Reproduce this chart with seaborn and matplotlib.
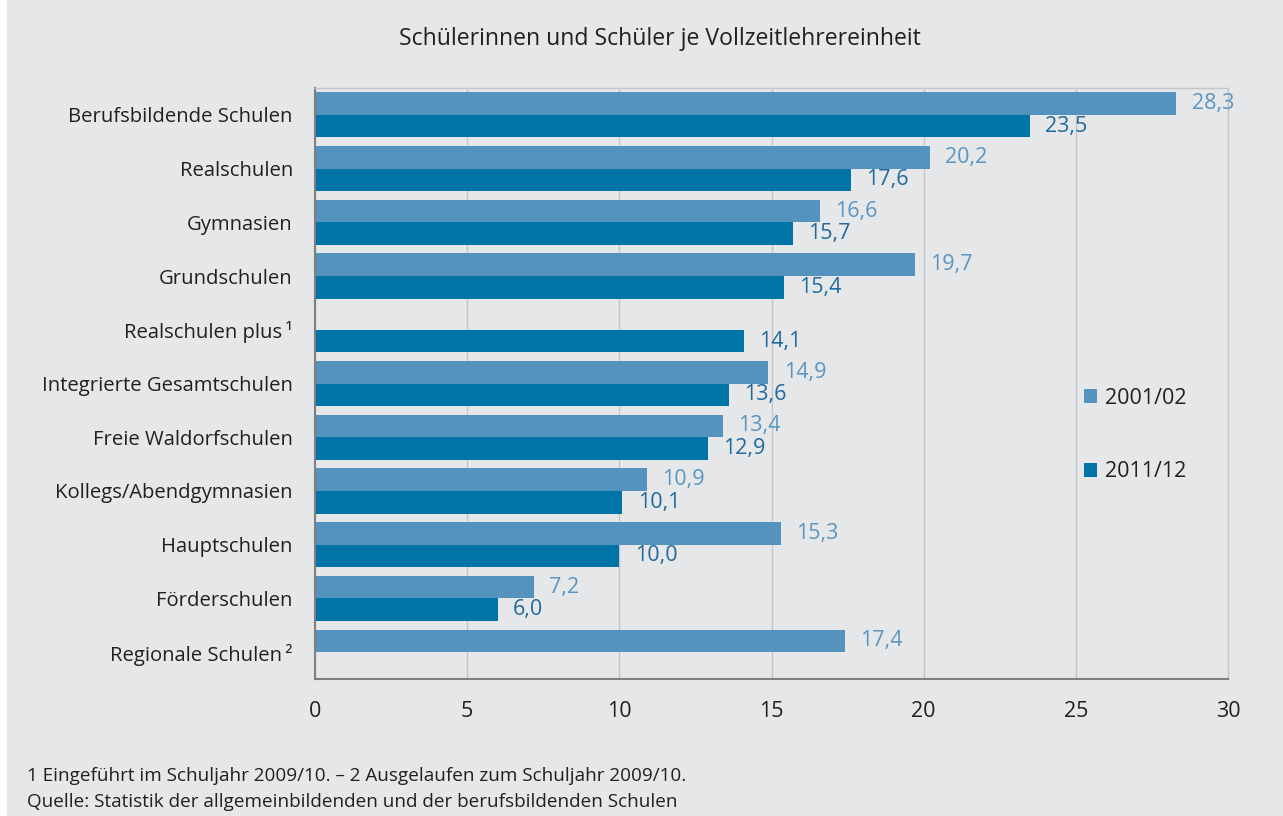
import numpy as np
import pandas as pd
import matplotlib
matplotlib.use("Agg")
import matplotlib.pyplot as plt
import seaborn as sns
from matplotlib.patches import Patch, Rectangle

categories = ["Berufsbildende Schulen", "Realschulen", "Gymnasien", "Grundschulen",
              "Realschulen plus\u2009\u00b9", "Integrierte Gesamtschulen", "Freie Waldorfschulen",
              "Kollegs/Abendgymnasien", "Hauptschulen", "Förderschulen", "Regionale Schulen\u2009\u00b2"]
v2001 = [28.3, 20.2, 16.6, 19.7, np.nan, 14.9, 13.4, 10.9, 15.3, 7.2, 17.4]
v2011 = [23.5, 17.6, 15.7, 15.4, 14.1, 13.6, 12.9, 10.1, 10.0, 6.0, np.nan]
series = ["2001/02", "2011/12"]
xticks = [0, 5, 10, 15, 20, 25, 30]

BG = "#e6e7e9"
C_LIGHT = "#5393bd"
C_DARK = "#0074a6"
T_LIGHT = "#5a96c2"
T_DARK = "#1f6a9c"
TXT = "#231f20"

sns.set_theme(style="white")
plt.rcParams["font.family"] = ["Open Sans", "DejaVu Sans"]

df = pd.DataFrame({
    "cat": categories * 2,
    "val": v2001 + v2011,
    "ser": [series[0]] * len(categories) + [series[1]] * len(categories),
})

fig = plt.figure(figsize=(12.83, 8.16), dpi=100, facecolor=BG)
fig.patches.append(Rectangle((0, 0), 7 / 1283, 1, transform=fig.transFigure,
                             facecolor="white", edgecolor="none", zorder=-1))
ax = fig.add_axes([315 / 1283, 1 - 679 / 816, (1228 - 315) / 1283, (679 - 88) / 816])
ax.set_facecolor(BG)

sns.barplot(data=df, y="cat", x="val", hue="ser", order=categories, hue_order=series,
            palette=[C_LIGHT, C_DARK], orient="h", width=0.84, dodge=True,
            saturation=1, ax=ax, legend=False, errorbar=None, linewidth=0, edgecolor="none")

ax.set_xlim(0, 30)
ax.set_ylim(10.5, -0.5)
ax.set_xticks(xticks)
ax.set_xticklabels([str(t) for t in xticks], fontsize=15.5, color=TXT)
ax.set_yticks(range(len(categories)))
ax.set_yticklabels(categories, fontsize=14.6, color=TXT)
ax.tick_params(axis="y", which="major", length=0, pad=16)
ax.set_yticks(np.arange(-0.5, len(categories), 1), minor=True)
ax.tick_params(axis="y", which="minor", length=9, width=1.3, color="#7f7f7f", direction="out")
ax.tick_params(axis="x", which="major", length=6, width=1.3, color="#7f7f7f", pad=10)
ax.set_xlabel("")
ax.set_ylabel("")

ax.grid(axis="x", color="#c4c5c7", linewidth=1)
ax.set_axisbelow(True)
for s in ["left", "bottom"]:
    ax.spines[s].set_color("#7f7f7f")
    ax.spines[s].set_linewidth(1.5)
for s in ["top", "right"]:
    ax.spines[s].set_color("#c4c5c7")
    ax.spines[s].set_linewidth(1)

fmt = lambda v: f"{v:.1f}".replace(".", ",")
for cont, col, w in zip(ax.containers, [T_LIGHT, T_DARK], ["normal", "medium"]):
    ax.bar_label(cont, fmt=fmt, padding=11, fontsize=15.5, color=col, fontweight=w)

handles = [Patch(facecolor=C_LIGHT, edgecolor="none"), Patch(facecolor=C_DARK, edgecolor="none")]
leg = fig.legend(handles, series, loc="center left", bbox_to_anchor=(1065 / 1283, 1 - 435 / 816),
                 frameon=False, fontsize=15.5, handlelength=0.6, handleheight=0.6,
                 handletextpad=0.35, labelspacing=2.45)
for t in leg.get_texts():
    t.set_color(TXT)

fig.text(660 / 1283, 1 - 39 / 816, "Schülerinnen und Schüler je Vollzeitlehrereinheit",
         ha="center", va="center", fontsize=16.6, color=TXT)
fig.text(27 / 1283, 1 - 776 / 816,
         "1 Eingeführt im Schuljahr 2009/10. \u2013 2 Ausgelaufen zum Schuljahr 2009/10.",
         ha="left", va="center", fontsize=13.6, color=TXT)
fig.text(27 / 1283, 1 - 802 / 816,
         "Quelle: Statistik der allgemeinbildenden und der berufsbildenden Schulen",
         ha="left", va="center", fontsize=13.6, color=TXT)

fig.savefig("out.png", dpi=100, facecolor=BG)
